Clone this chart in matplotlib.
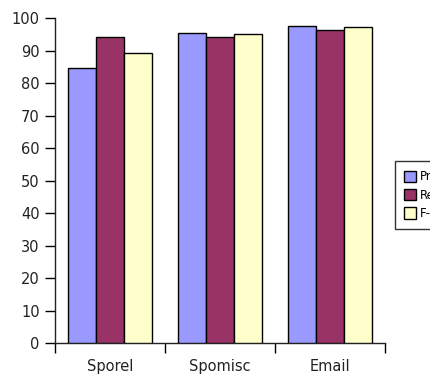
import matplotlib
matplotlib.use("Agg")
import matplotlib.pyplot as plt
import numpy as np

categories = ["Sporel", "Spomisc", "Email"]
series_names = ["Precision", "Recall", "F-measure"]
precision = [84.7, 95.5, 97.7]
recall = [94.2, 94.2, 96.4]
f_measure = [89.2, 95.2, 97.3]
colors = ["#9999FF", "#993366", "#FFFFCC"]
y_ticks = [0, 10, 20, 30, 40, 50, 60, 70, 80, 90, 100]

plt.rcParams["font.family"] = ["DejaVu Sans"]

W, H = 430, 376
fig = plt.figure(figsize=(W / 100, H / 100), dpi=100)
ax = fig.add_axes([55 / W, (H - 343.3) / H, 330 / W, 325 / H])

x = np.arange(len(categories))
bw = 0.252
for i, (vals, name, c) in enumerate(zip([precision, recall, f_measure], series_names, colors)):
    ax.bar(x + (i - 1) * bw, vals, width=bw, color=c, edgecolor="black",
           linewidth=1.0, label=name, zorder=3)

ax.set_xlim(-0.5, len(categories) - 0.5)
ax.set_ylim(0, 100)
ax.set_yticks(y_ticks)
ax.set_yticklabels([str(v) for v in y_ticks], fontsize=10.5, color="#222222")

# category boundaries get the tick marks, labels sit in the middle
ax.set_xticks(np.arange(len(categories) + 1) - 0.5)
ax.set_xticklabels([])
ax.set_xticks(x, minor=True)
ax.set_xticklabels(categories, minor=True, fontsize=10.5, color="#222222")
ax.tick_params(axis="x", which="minor", length=0, pad=11)
ax.tick_params(axis="x", which="major", length=7, width=1, direction="out")
ax.tick_params(axis="y", length=7, width=1, direction="out", pad=4)

for s in ["top", "right"]:
    ax.spines[s].set_visible(False)
for s in ["left", "bottom"]:
    ax.spines[s].set_linewidth(1.0)
    ax.spines[s].set_color("#222222")

leg = ax.legend(loc="center left", bbox_to_anchor=(1.03, 0.456), frameon=True,
                fancybox=False, edgecolor="black", fontsize=8.5, handlelength=1.0,
                handleheight=1.1, handletextpad=0.4, labelspacing=0.45,
                borderpad=0.75, borderaxespad=0)
leg.get_frame().set_linewidth(1.0)

fig.savefig("out.png", dpi=100)
